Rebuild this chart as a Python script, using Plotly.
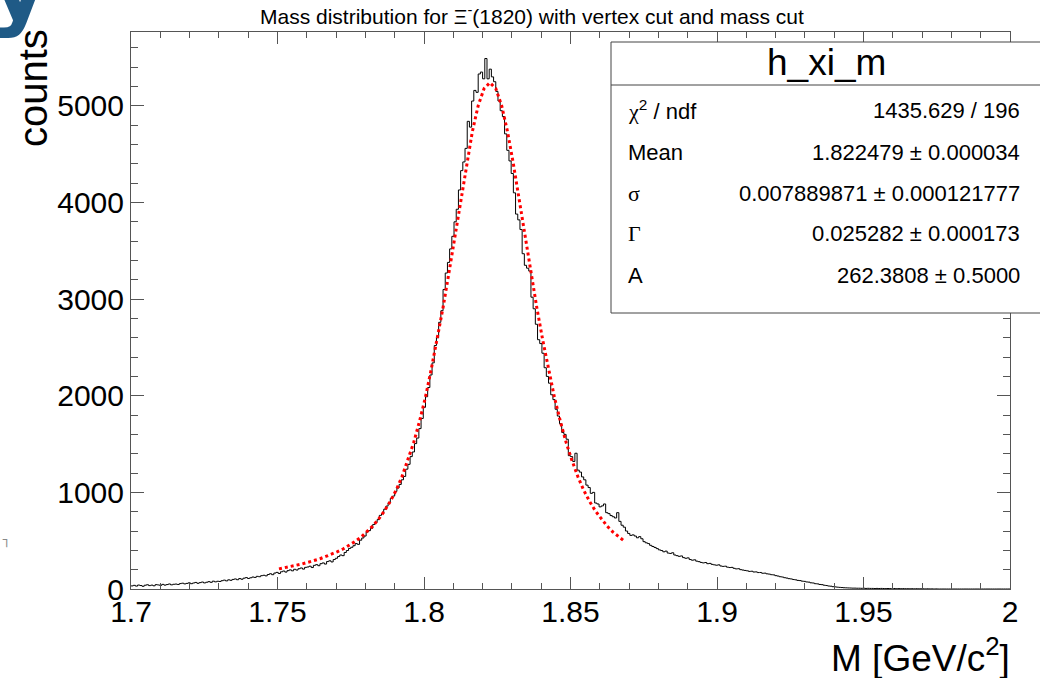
import numpy as np
import plotly.graph_objects as go

# ---------------- data ----------------
mass_range = [1.7, 2.0]
n_bins = 400

counts_1700_1745 = [32, 38, 30, 41, 36, 28, 39, 44, 35, 40, 33, 45, 42, 37, 48, 40, 46, 52, 43, 49,
                    51, 47, 56, 60, 53, 58, 64, 55, 62, 68, 59, 66, 72, 63, 70, 76, 69, 81, 74, 80,
                    78, 86, 92, 84, 95, 90, 99, 104, 96, 108, 101, 112, 118, 109, 116, 124, 120, 131, 127, 138]
counts_1745_1790 = [142, 136, 150, 158, 148, 165, 172, 160, 178, 186, 175, 190, 198, 188, 204, 196, 210, 218, 206, 224,
                    228, 236, 222, 245, 252, 241, 262, 270, 258, 284, 292, 280, 305, 318, 336, 352, 345, 378, 398, 420,
                    432, 448, 470, 462, 505, 528, 548, 590, 604, 628, 668, 690, 718, 762, 780, 826, 858, 892, 938, 962]
counts_1790_1835 = [1010, 1045, 1082, 1130, 1165, 1240, 1290, 1370, 1418, 1505, 1562, 1660, 1765, 1880, 1990, 2085, 2215, 2340, 2520, 2600,
                    2760, 2880, 3100, 3270, 3380, 3520, 3650, 3800, 3930, 4130, 4330, 4420, 4560, 4840, 4780, 5050, 5160, 5140, 5330, 5350,
                    5280, 5490, 5280, 5380, 5300, 5250, 5150, 5050, 4950, 4890, 4710, 4540, 4430, 4300, 4100, 3880, 3820, 3720, 3470, 3350]
counts_1835_1880 = [3320, 3290, 3020, 2900, 2740, 2580, 2540, 2440, 2290, 2200, 2130, 2010, 1960, 1860, 1790, 1710, 1620, 1600, 1550, 1380,
                    1370, 1320, 1405, 1230, 1210, 1160, 1130, 1075, 1050, 990, 1000, 890, 880, 850, 860, 880, 790, 780, 760, 748,
                    735, 790, 700, 660, 640, 600, 575, 555, 560, 548, 530, 542, 520, 490, 478, 470, 452, 440, 430, 418]
counts_1880_1925 = [405, 398, 385, 392, 372, 368, 375, 352, 345, 338, 342, 325, 318, 322, 305, 298, 302, 288, 283, 275,
                    270, 274, 262, 265, 255, 250, 246, 250, 238, 234, 236, 226, 222, 224, 214, 208, 210, 200, 196, 192,
                    188, 182, 184, 176, 177, 170, 171, 163, 164, 157, 154, 148, 146, 138, 134, 127, 124, 117, 113, 107]
counts_1925_2000 = [104, 98, 95, 89, 87, 81, 79, 73, 71, 64, 62, 55, 53, 47, 45, 39, 36, 31, 29, 24,
                    22, 19, 17, 15, 13, 12, 11, 10, 9, 9, 8, 8, 7, 8, 6, 7, 6, 6, 5, 6,
                    5, 6, 5, 4, 5, 4, 4, 5, 3, 4, 3, 4, 3, 3, 2, 3, 2, 3, 2, 2,
                    2, 1, 2, 1, 1, 0, 1, 0, 0, 0, 0, 0, 0, 0, 0, 0, 0, 0, 0, 0,
                    0, 0, 0, 0, 0, 0, 0, 0, 0, 0, 0, 0, 0, 0, 0, 0, 0, 0, 0, 0]

fit_start, fit_step = 1.7505, 0.002
fit_values = [208, 220, 232, 245, 260, 277, 294, 313, 337, 360, 387, 416, 451, 492, 536, 589, 651, 723,
              808, 907, 1023, 1164, 1331, 1517, 1740, 1986, 2278, 2580, 2912, 3270, 3647, 4030, 4400,
              4734, 5003, 5179, 5240, 5179, 5003, 4734, 4400, 4030, 3647, 3270, 2912, 2580, 2278, 1986,
              1740, 1517, 1331, 1164, 1023, 907, 808, 723, 651, 589, 536, 492]

stat_labels = ["χ<sup>2</sup> / ndf", "Mean", "σ", "Γ", "A"]
stat_values = ["1435.629 / 196", "1.822479 ± 0.000034", "0.007889871 ± 0.000121777",
               "0.025282 ± 0.000173", "262.3808 ± 0.5000"]
x_ticks = [1.7, 1.75, 1.8, 1.85, 1.9, 1.95, 2.0]
x_tick_text = ["1.7", "1.75", "1.8", "1.85", "1.9", "1.95", "2"]
y_ticks = [0, 1000, 2000, 3000, 4000, 5000]

# ---------------- build ----------------
counts = (counts_1700_1745 + counts_1745_1790 + counts_1790_1835 +
          counts_1835_1880 + counts_1880_1925 + counts_1925_2000)
edges = np.linspace(mass_range[0], mass_range[1], n_bins + 1)
hist_x = list(edges)
hist_y = counts + [counts[-1]]
fit_x = fit_start + fit_step * np.arange(len(fit_values))

W, H = 1040, 678
ML, MR, MT, MB = 131, 30, 32, 89
PW, PH = W - ML - MR, H - MT - MB


def px(X):
    return (X - ML) / PW


def py(Y):
    return (H - MB - Y) / PH


FONT = "Liberation Sans, Arial, Helvetica, sans-serif"
SERIF = "Liberation Serif, Times New Roman, serif"
FRAME = "#555555"

fig = go.Figure()
fig.add_trace(go.Scatter(x=hist_x, y=hist_y, mode="lines",
                         line=dict(color="black", width=1, shape="hv"),
                         hoverinfo="skip"))
fig.add_trace(go.Scatter(x=fit_x, y=fit_values, mode="lines",
                         line=dict(color="#ff0000", width=3, dash="dot"),
                         hoverinfo="skip"))

ymax = 1.05 * max(counts)

fig.update_layout(
    width=W, height=H,
    margin=dict(l=ML, r=MR, t=MT, b=MB, pad=0),
    paper_bgcolor="white", plot_bgcolor="white",
    showlegend=False,
    font=dict(family=FONT, color="black"),
    xaxis=dict(range=mass_range, tickvals=x_ticks, ticktext=x_tick_text,
               ticks="inside", ticklen=12, tickwidth=1, tickcolor=FRAME,
               minor=dict(dtick=0.01, tick0=1.7, ticks="inside", ticklen=6, tickwidth=1, tickcolor=FRAME),
               showline=True, linecolor=FRAME, linewidth=1, mirror="ticks",
               showgrid=False, zeroline=False, ticklabelstandoff=-4,
               tickfont=dict(size=30, family=FONT, color="black")),
    yaxis=dict(range=[0, ymax], tickvals=y_ticks, tickformat="d",
               ticks="inside", ticklen=13, tickwidth=1, tickcolor=FRAME,
               minor=dict(dtick=200, tick0=0, ticks="inside", ticklen=7, tickwidth=1, tickcolor=FRAME),
               showline=True, linecolor=FRAME, linewidth=1, mirror="ticks",
               showgrid=False, zeroline=False,
               tickfont=dict(size=30, family=FONT, color="black")),
)

# stats box
fig.add_shape(type="rect", xref="paper", yref="paper",
              x0=px(611), x1=px(1046), y0=py(313), y1=py(42),
              fillcolor="white", line=dict(color="#444444", width=1), layer="above")
fig.add_shape(type="line", xref="paper", yref="paper",
              x0=px(611), x1=px(1046), y0=py(85), y1=py(85),
              line=dict(color="#444444", width=1), layer="above")

ann = []
ann.append(dict(text="h_xi_m", x=px(826), y=py(63), xanchor="center", yanchor="middle",
                font=dict(size=37, family=FONT, color="black")))
row_y = [110, 152, 193, 233, 275]
for lab, val, ry in zip(stat_labels, stat_values, row_y):
    if lab.startswith("χ"):
        lab = '<span style="font-family:Liberation Serif">χ</span>' + lab[1:]
    fam = SERIF if lab in ("σ", "Γ") else FONT
    ann.append(dict(text=lab, x=px(626), y=py(ry), xanchor="left", yanchor="middle",
                    font=dict(size=22, family=fam, color="black")))
    ann.append(dict(text=val, x=px(1022), y=py(ry), xanchor="right", yanchor="middle",
                    font=dict(size=22, family=FONT, color="black")))

# title
ann.append(dict(text="Mass distribution for Ξ<sup>-</sup>(1820) with vertex cut and mass cut",
                x=px(532), y=py(15), xanchor="center", yanchor="middle",
                font=dict(size=21, family=FONT, color="black")))
# axis titles (ROOT style: aligned to the axis end)
ann.append(dict(text="M [GeV/c<sup>2</sup>]", x=px(1012), y=py(655), xanchor="right", yanchor="middle",
                font=dict(size=37, family=FONT, color="black")))
ann.append(dict(text="counts", x=px(33), y=py(27), xanchor="center", yanchor="top", textangle=-90,
                font=dict(size=40, family=FONT, color="black")))
# partially visible logo glyph at the top-left corner
ann.append(dict(text="<b>y</b>", x=px(-12), y=py(-14), xanchor="left", yanchor="middle",
                font=dict(size=90, family="DejaVu Sans", color="#1f5a86")))
# small stray mark at the left edge
ann.append(dict(text="┐", x=px(6), y=py(540), xanchor="center", yanchor="middle",
                font=dict(size=13, family="DejaVu Sans", color="#888888")))

for a in ann:
    a.update(xref="paper", yref="paper", showarrow=False)
fig.update_layout(annotations=ann)

fig.write_html("out.html")
